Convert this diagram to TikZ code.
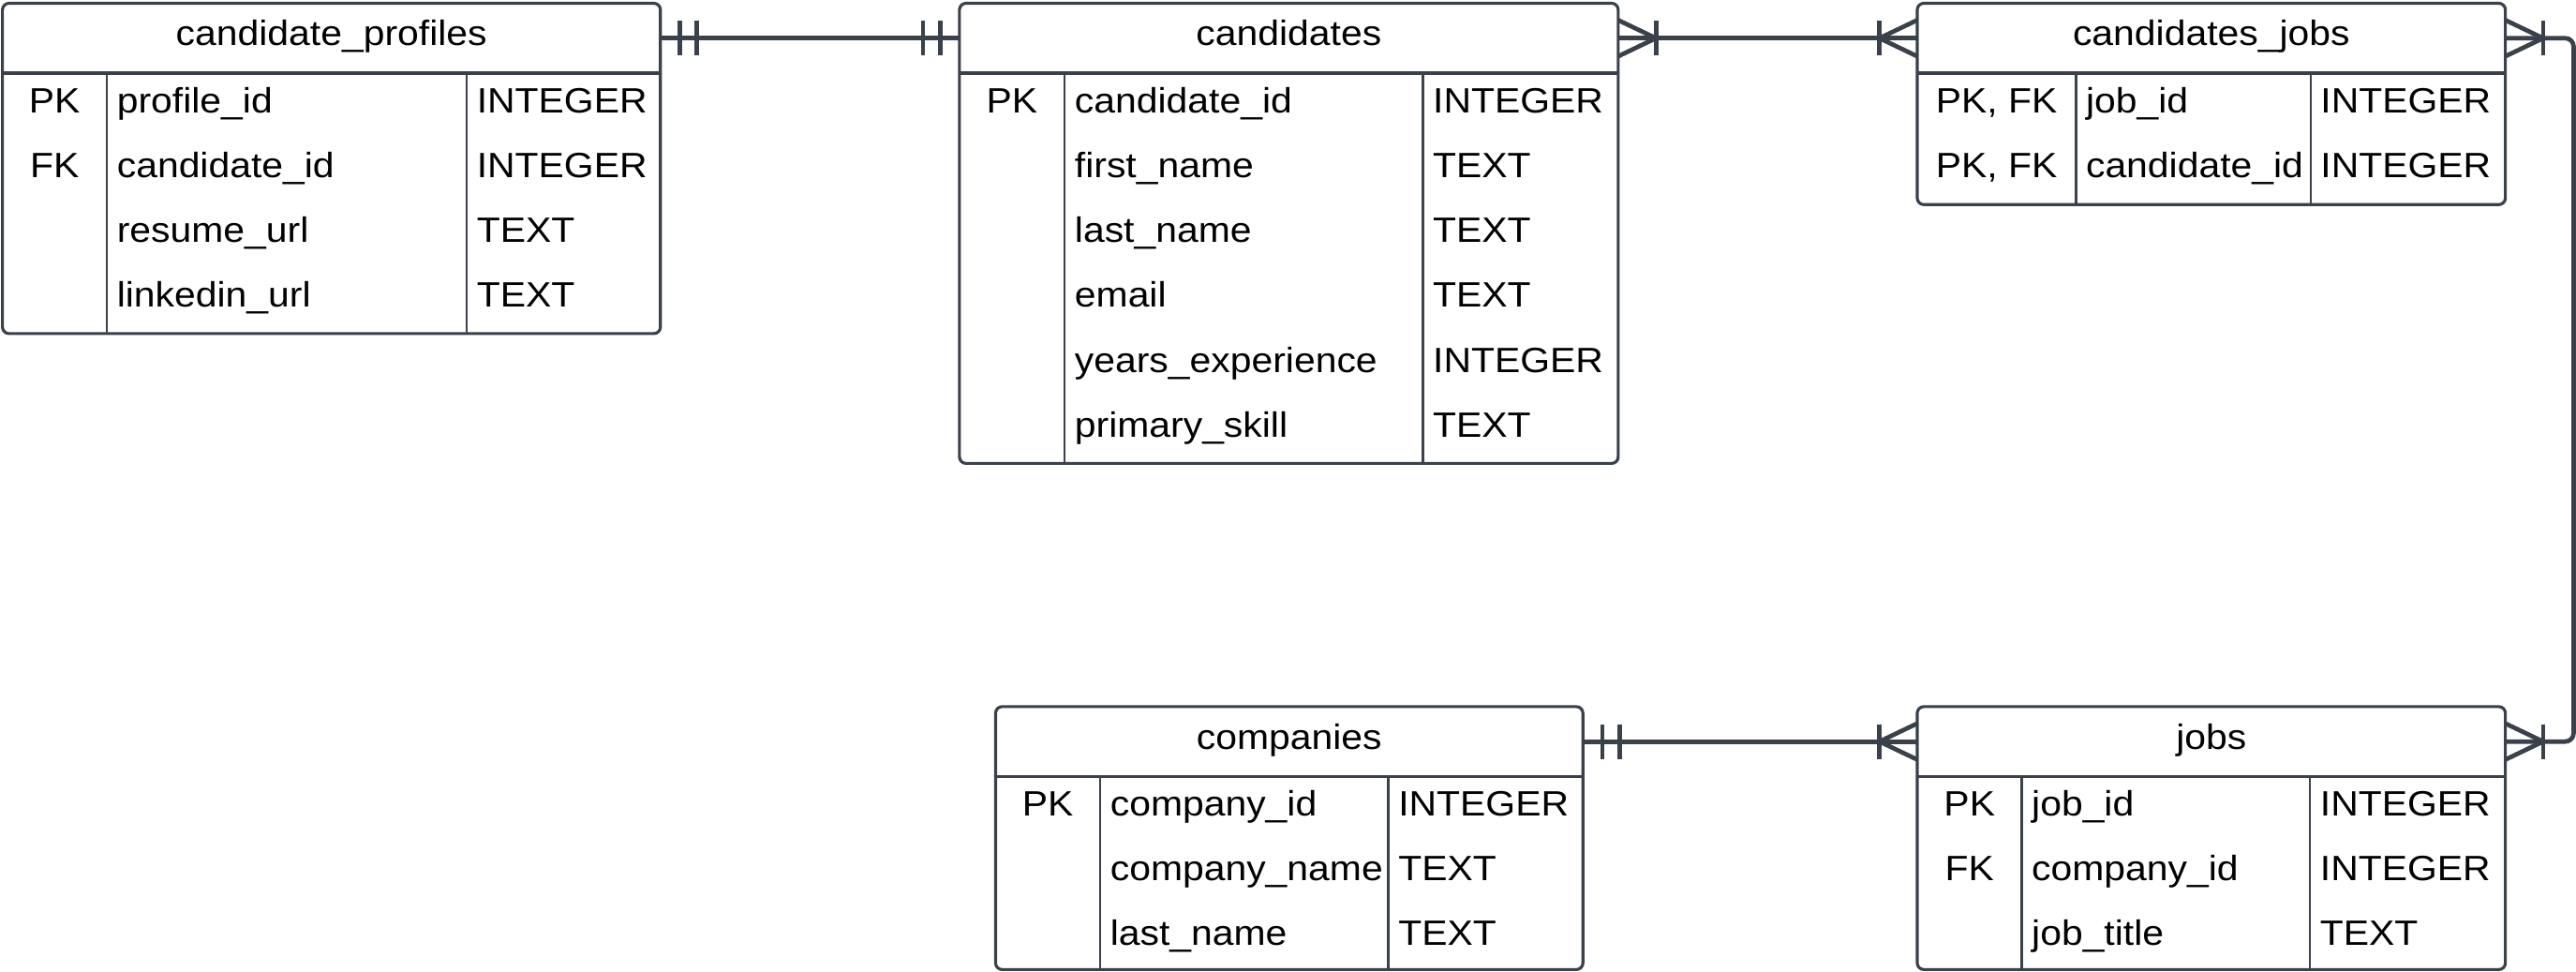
\documentclass[tikz,border=0pt]{standalone}
\usepackage{fontspec}
\setmainfont{Liberation Sans}[FakeStretch=1.09]
\definecolor{ln}{HTML}{3A414A}
\newcommand{\tblfont}{\fontsize{21.4pt}{26pt}\selectfont}
\tikzset{
  x=1pt, y=1pt,
  tblbox/.style={draw=ln, line width=1.8pt, rounded corners=4pt, inner sep=0pt, outer sep=0pt, anchor=north west, fill=white},
  hdrbox/.style={inner sep=0pt, outer sep=0pt, anchor=north west},
  hline/.style={draw=ln, line width=2pt},
  dline/.style={draw=ln, line width=1.5pt},
  conn/.style={draw=ln, line width=2.7pt},
  keytxt/.style={anchor=base, inner sep=0pt, font=\tblfont},
  fldtxt/.style={anchor=base west, inner sep=0pt, font=\tblfont},
  ttl/.style={anchor=base, inner sep=0pt, font=\tblfont},
}
% #1 name, #2 x0, #3 y0, #4 x1, #5 y1, #6 header bottom, #7 divider1, #8 divider2, #9 title
\newcommand{\etable}[9]{%
  \node[tblbox, minimum width={#4-#2}, minimum height={#5-#3}] (#1) at (#2,-#3) {};
  \node[hdrbox, minimum width={#4-#2}, minimum height={#6-#3}] (#1H) at (#2,-#3) {};
  \node[ttl] (#1T) at ({(#2+#4)/2},{-#3-25.8}) {#9};
  \draw[hline] (#1H.south west) -- (#1H.south east);
  \draw[dline] (#7,-#6) -- (#7,-#5);
  \draw[dline] (#8,-#6) -- (#8,-#5);
}
% #1 prefix, #2 baseline y, #3 key centre x, #4 key, #5 name x, #6 field, #7 type x, #8 type
\newcommand{\erow}[8]{%
  \node[keytxt] (#1k) at (#3,-#2) {#4};
  \node[fldtxt] (#1n) at (#5,-#2) {#6};
  \node[fldtxt] (#1t) at (#7,-#2) {#8};
}
% without key
\newcommand{\erowb}[6]{%
  \node[fldtxt] (#1n) at (#3,-#2) {#4};
  \node[fldtxt] (#1t) at (#5,-#2) {#6};
}
% double bar (one and only one): #1 anchor, #2 direction (+1 right, -1 left)
\newcommand{\onebars}[2]{%
  \draw[conn] ([xshift={#2*11.8pt}, yshift=10.5pt]#1) -- ([xshift={#2*11.8pt}, yshift=-10.5pt]#1);
  \draw[conn] ([xshift={#2*22.2pt}, yshift=10.5pt]#1) -- ([xshift={#2*22.2pt}, yshift=-10.5pt]#1);
}
% crow's foot with bar (one or many): #1 anchor, #2 direction
\newcommand{\crowbar}[2]{%
  \draw[conn] ([yshift=11pt]#1) -- ([xshift={#2*23pt}]#1) -- ([yshift=-11pt]#1);
  \draw[conn] ([xshift={#2*23pt}, yshift=10.5pt]#1) -- ([xshift={#2*23pt}, yshift=-10.5pt]#1);
}
\begin{document}
\begin{tikzpicture}
\useasboundingbox (0,0) rectangle (1568,-591);

% candidate_profiles
\etable{cp}{1.5}{2}{402}{203}{44.5}{65}{284}{candidate\_profiles}
\erow{cpa}{68.5}{33.2}{PK}{71}{profile\_id}{290}{INTEGER}
\erow{cpb}{108}{33.2}{FK}{71}{candidate\_id}{290}{INTEGER}
\erowb{cpc}{147.5}{71}{resume\_url}{290}{TEXT}
\erowb{cpd}{187}{71}{linkedin\_url}{290}{TEXT}

% candidates
\etable{c}{584}{2}{985}{282}{44.5}{648}{866}{candidates}
\erow{ca}{68.5}{616}{PK}{654}{candidate\_id}{872}{INTEGER}
\erowb{cb}{108}{654}{first\_name}{872}{TEXT}
\erowb{cc}{147.5}{654}{last\_name}{872}{TEXT}
\erowb{cd}{187}{654}{email}{872}{TEXT}
\erowb{ce}{226.5}{654}{years\_experience}{872}{INTEGER}
\erowb{cf}{266}{654}{primary\_skill}{872}{TEXT}

% candidates_jobs
\etable{cj}{1167}{2}{1525}{124.5}{44.5}{1263.5}{1406.5}{candidates\_jobs}
\erow{cja}{68.5}{1215.3}{PK, FK}{1269.5}{job\_id}{1412.3}{INTEGER}
\erow{cjb}{108}{1215.3}{PK, FK}{1269.5}{candidate\_id}{1412.3}{INTEGER}

% companies
\etable{co}{606}{430}{963.5}{590}{472.5}{669.6}{845}{companies}
\erow{coa}{496.5}{637.8}{PK}{675.6}{company\_id}{851}{INTEGER}
\erowb{cob}{536}{675.6}{company\_name}{851}{TEXT}
\erowb{coc}{575.5}{675.6}{last\_name}{851}{TEXT}

% jobs
\etable{j}{1167}{430}{1525}{590}{472.5}{1230.7}{1406}{jobs}
\erow{ja}{496.5}{1198.8}{PK}{1236.5}{job\_id}{1412}{INTEGER}
\erow{jb}{536}{1198.8}{FK}{1236.5}{company\_id}{1412}{INTEGER}
\erowb{jc}{575.5}{1236.5}{job\_title}{1412}{TEXT}

% connectors
\draw[conn] (cpH.east) -- (cH.west);
\onebars{cpH.east}{1}
\onebars{cH.west}{-1}

\draw[conn] (cH.east) -- (cjH.west);
\crowbar{cH.east}{1}
\crowbar{cjH.west}{-1}

\draw[conn, rounded corners=5pt] (cjH.east) -- ++(41.5,0) |- (jH.east);
\crowbar{cjH.east}{1}
\crowbar{jH.east}{1}

\draw[conn] (coH.east) -- (jH.west);
\onebars{coH.east}{1}
\crowbar{jH.west}{-1}
\end{tikzpicture}
\end{document}
